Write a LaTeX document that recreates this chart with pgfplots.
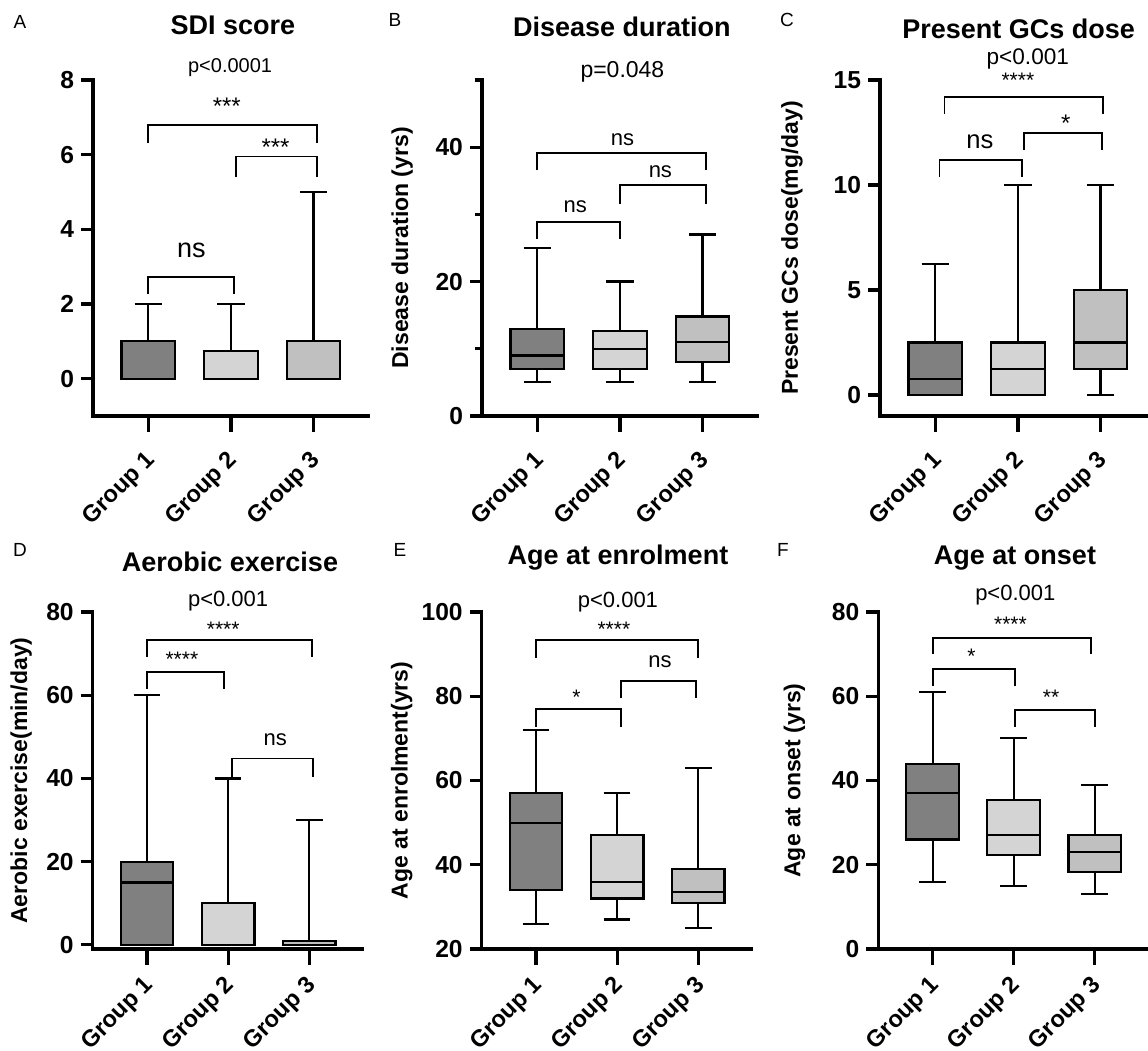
\documentclass[border=0pt]{standalone}
\usepackage{fontspec}
\setmainfont{Liberation Sans}
\usepackage{pgfplots}
\pgfplotsset{compat=1.18}
\usepgfplotslibrary{statistics}

\definecolor{gA}{RGB}{128,128,128}
\definecolor{gB}{RGB}{212,212,212}
\definecolor{gC}{RGB}{192,192,192}

\newcommand{\fs}[1]{\fontsize{#1}{#1}\selectfont}
\newcommand{\brk}[4]{\draw[line width=0.9pt] (axis cs:#1,#4) |- (axis cs:#2,#3) -- (axis cs:#2,#4);}

\pgfplotsset{
  gp/.style={
    scale only axis, clip=false,
    axis lines*=left,
    axis line style={line width=1.6pt, line cap=rect},
    xmin=0.33, xmax=3.66,
    xtick={1,2,3}, xticklabels={Group 1,Group 2,Group 3},
    tick align=outside,
    major tick length=6pt,
    minor tick length=3.5pt,
    every tick/.style={black, line width=1.6pt},
    xtick style={/pgfplots/major tick length=8pt},
    y tick label style={font=\bfseries\fs{12.3}},
    /pgf/number format/assume math mode=true,
    ylabel style={font=\bfseries\fs{11.5}},
    boxplot/draw direction=y,
    boxplot/box extend=0.65,
    boxplot/whisker extend=0.33,
  },
  xls/.style={x tick label style={xshift=4pt, yshift=#1, rotate=45, anchor=east, font=\bfseries\fs{11.8}}},
  yl/.style={ylabel style={at={(axis description cs:#1,0.5)}, anchor=center}},
}
\tikzset{
  ns/.style={font=\fs{11}, anchor=center},
  st/.style={font=\fs{10.5}, anchor=center, yshift=-2.2pt},
  pv/.style={font=\fs{11}, anchor=center},
}

\begin{document}
\begin{tikzpicture}
\useasboundingbox (0,0) rectangle (574pt,525.5pt);

% ---------------- A
\begin{axis}[gp, xls=-12pt, at={(46.5pt,317.5pt)}, anchor=south west, width=137.5pt, height=168pt,
  ymin=-1, ymax=8, ytick={0,2,4,6,8}]
\addplot[draw=black, line width=1.1pt, fill=gA, boxplot prepared={draw position=1, lower whisker=0, lower quartile=0, median=0, upper quartile=1, upper whisker=2}] coordinates {};
\addplot[draw=black, line width=1.1pt, fill=gB, boxplot prepared={draw position=2, lower whisker=0, lower quartile=0, median=0, upper quartile=0.75, upper whisker=2}] coordinates {};
\addplot[draw=black, line width=1.1pt, fill=gC, boxplot prepared={draw position=3, lower whisker=0, lower quartile=0, median=0, upper quartile=1, upper whisker=5}] coordinates {};
\brk{1}{2.04}{2.72}{2.27}
\node[ns, font=\fs{13.5}] at (axis cs:1.52,3.44) {ns};
\brk{2.06}{3.04}{5.95}{5.39}
\node[st, font=\fs{12}, yshift=-0.4pt] at (axis cs:2.54,6.34) {***};
\brk{1}{3.04}{6.80}{6.30}
\node[st, font=\fs{12}, yshift=-0.4pt] at (axis cs:1.95,7.43) {***};
\node[pv, font=\fs{10}] at (axis cs:1.99,8.34) {p\textless0.0001};
\end{axis}

% ---------------- B
\begin{axis}[gp, xls=-12pt, at={(241pt,317.5pt)}, anchor=south west, width=137.5pt, height=168pt,
  ymin=0, ymax=50, ytick={0,20,40}, minor ytick={10,30,50},
  ylabel={Disease duration (yrs)}, yl=-0.29]
\addplot[draw=black, line width=1.1pt, fill=gA, boxplot prepared={draw position=1, lower whisker=5, lower quartile=7, median=9, upper quartile=13, upper whisker=25}] coordinates {};
\addplot[draw=black, line width=1.1pt, fill=gB, boxplot prepared={draw position=2, lower whisker=5, lower quartile=7, median=10, upper quartile=12.7, upper whisker=20}] coordinates {};
\addplot[draw=black, line width=1.1pt, fill=gC, boxplot prepared={draw position=3, lower whisker=5, lower quartile=8, median=11, upper quartile=14.8, upper whisker=27}] coordinates {};
\brk{1}{2}{28.84}{26.35}
\node[ns] at (axis cs:1.46,31.1) {ns};
\brk{2}{3.04}{34.4}{31.6}
\node[ns] at (axis cs:2.49,36.3) {ns};
\brk{1}{3.04}{39.1}{36.6}
\node[ns] at (axis cs:2.03,41.1) {ns};
\node[pv, font=\fs{11.5}] at (axis cs:2.03,51.25) {p=0.048};
\end{axis}

% ---------------- C
\begin{axis}[gp, xls=-12pt, at={(440pt,317.5pt)}, anchor=south west, width=137.5pt, height=168pt,
  ymin=-1, ymax=15, ytick={0,5,10,15},
  ylabel={Present GCs dose(mg/day)}, yl=-0.32]
\addplot[draw=black, line width=1.1pt, fill=gA, boxplot prepared={draw position=1, lower whisker=0, lower quartile=0, median=0.75, upper quartile=2.5, upper whisker=6.25}] coordinates {};
\addplot[draw=black, line width=1.1pt, fill=gB, boxplot prepared={draw position=2, lower whisker=0, lower quartile=0, median=1.25, upper quartile=2.5, upper whisker=10}] coordinates {};
\addplot[draw=black, line width=1.1pt, fill=gC, boxplot prepared={draw position=3, lower whisker=0, lower quartile=1.25, median=2.5, upper quartile=5, upper whisker=10}] coordinates {};
\brk{1.05}{2.05}{11.2}{10.37}
\node[ns, font=\fs{12.8}] at (axis cs:1.54,12.06) {ns};
\brk{2.07}{3.02}{12.49}{11.66}
\node[st, font=\fs{12}, yshift=-0.4pt] at (axis cs:2.58,13.18) {*};
\brk{1.11}{3.03}{14.2}{13.39}
\node[st] at (axis cs:2.0,15.19) {****};
\node[pv, font=\fs{11.3}] at (axis cs:2.12,16.0) {p\textless0.001};
\end{axis}

% ---------------- D
\begin{axis}[gp, xls=-8pt, at={(46.35pt,51pt)}, anchor=south west, width=135pt, height=168.5pt,
  ymin=-1, ymax=80, ytick={0,20,40,60,80},
  ylabel={Aerobic exercise(min/day)}, yl=-0.265]
\addplot[draw=black, line width=1.1pt, fill=gA, boxplot prepared={draw position=1, lower whisker=0, lower quartile=0, median=15, upper quartile=20, upper whisker=60}] coordinates {};
\addplot[draw=black, line width=1.1pt, fill=gB, boxplot prepared={draw position=2, lower whisker=0, lower quartile=0, median=0, upper quartile=10, upper whisker=40}] coordinates {};
\addplot[draw=black, line width=1.1pt, fill=gC, boxplot prepared={draw position=3, lower whisker=0, lower quartile=0, median=0, upper quartile=1, upper whisker=30}] coordinates {};
\brk{1}{1.95}{65.6}{61.6}
\node[st] at (axis cs:1.43,69.6) {****};
\brk{2.05}{3.05}{44.8}{40.4}
\node[ns] at (axis cs:2.58,49.2) {ns};
\brk{1}{3.03}{73.2}{69.2}
\node[st] at (axis cs:1.94,76.8) {****};
\node[pv] at (axis cs:2.0,82.6) {p\textless0.001};
\end{axis}

% ---------------- E
\begin{axis}[gp, xls=-8pt, at={(240.85pt,51pt)}, anchor=south west, width=135pt, height=168.5pt,
  ymin=20, ymax=100, ytick={20,40,60,80,100},
  ylabel={Age at enrolment(yrs)}, yl=-0.296]
\addplot[draw=black, line width=1.1pt, fill=gA, boxplot prepared={draw position=1, lower whisker=26, lower quartile=34, median=50, upper quartile=57, upper whisker=72}] coordinates {};
\addplot[draw=black, line width=1.1pt, fill=gB, boxplot prepared={draw position=2, lower whisker=27, lower quartile=32, median=36, upper quartile=47, upper whisker=57}] coordinates {};
\addplot[draw=black, line width=1.1pt, fill=gC, boxplot prepared={draw position=3, lower whisker=25, lower quartile=31, median=33.5, upper quartile=39, upper whisker=63}] coordinates {};
\brk{1}{2.05}{76.9}{72.8}
\node[st] at (axis cs:1.5,80.7) {*};
\brk{2.05}{2.97}{83.7}{79.5}
\node[ns] at (axis cs:2.53,88.2) {ns};
\brk{1}{3}{93.3}{89.2}
\node[st] at (axis cs:1.96,97.0) {****};
\node[pv] at (axis cs:2.01,102.4) {p\textless0.001};
\end{axis}

% ---------------- F
\begin{axis}[gp, xls=-8pt, at={(439.15pt,51pt)}, anchor=south west, width=135pt, height=168.5pt,
  ymin=0, ymax=80, ytick={0,20,40,60,80},
  ylabel={Age at onset (yrs)}, yl=-0.31]
\addplot[draw=black, line width=1.1pt, fill=gA, boxplot prepared={draw position=1, lower whisker=16, lower quartile=26, median=37, upper quartile=44, upper whisker=61}] coordinates {};
\addplot[draw=black, line width=1.1pt, fill=gB, boxplot prepared={draw position=2, lower whisker=15, lower quartile=22.3, median=27, upper quartile=35.4, upper whisker=50}] coordinates {};
\addplot[draw=black, line width=1.1pt, fill=gC, boxplot prepared={draw position=3, lower whisker=13, lower quartile=18.2, median=23, upper quartile=27, upper whisker=39}] coordinates {};
\brk{1}{2.02}{66.4}{62.4}
\node[st] at (axis cs:1.48,70.5) {*};
\brk{2.02}{3}{56.7}{52.8}
\node[st] at (axis cs:2.46,60.7) {**};
\brk{1}{2.95}{73.9}{70}
\node[st] at (axis cs:1.96,78.2) {****};
\node[pv] at (axis cs:2.02,84.0) {p\textless0.001};
\end{axis}

% titles and panel letters (image px -> pt: x/2, (1051-y)/2)
\begin{scope}[font=\bfseries\fs{13.5}]
\node at (116.5pt,512.8pt) {SDI score};
\node at (310.9pt,512pt) {Disease duration};
\node at (509.3pt,511.2pt) {Present GCs dose};
\node at (115pt,244.7pt) {Aerobic exercise};
\node at (309pt,246.5pt) {Age at enrolment};
\node at (507.5pt,246.5pt) {Age at onset};
\end{scope}
\begin{scope}[font=\fs{9.5}]
\node at (10pt,514.5pt) {A};
\node at (197.5pt,515.5pt) {B};
\node at (393.5pt,515.5pt) {C};
\node at (10pt,250.5pt) {D};
\node at (200pt,250.5pt) {E};
\node at (391.5pt,250.5pt) {F};
\end{scope}
\end{tikzpicture}
\end{document}
